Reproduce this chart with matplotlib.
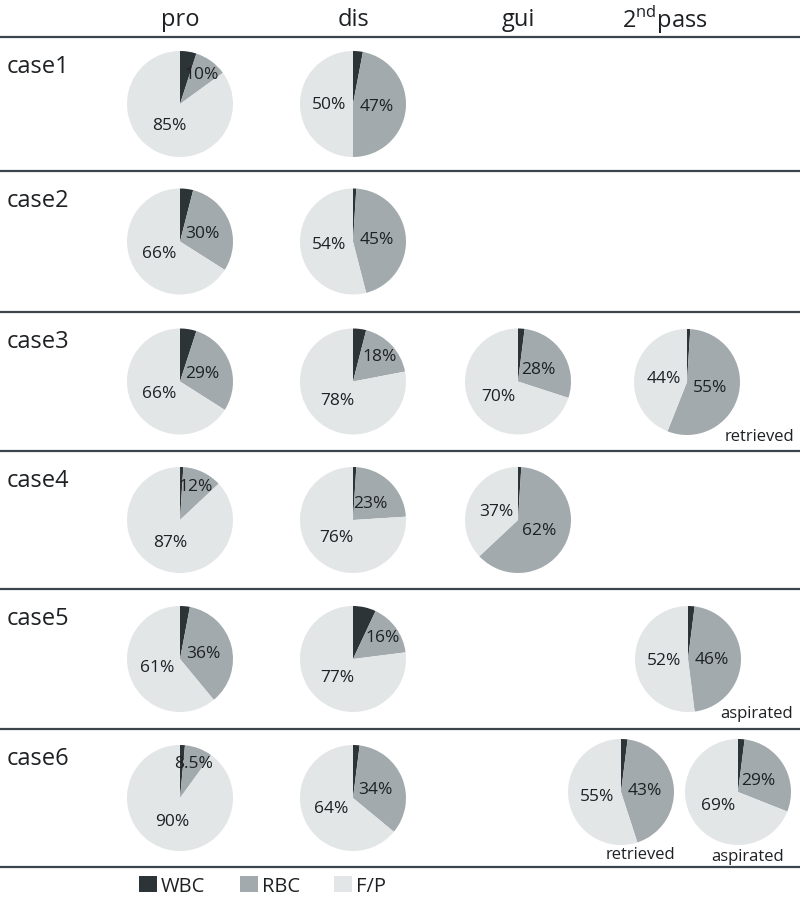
import numpy as np
import matplotlib
matplotlib.use('Agg')
import matplotlib.pyplot as plt

# values (percent); WBC is the remainder
cases = ['case1', 'case2', 'case3', 'case4', 'case5', 'case6']
columns = ['pro', 'dis', 'gui', r'2$^{\rm nd}$pass']
legend_labels = ['WBC', 'RBC', 'F/P']

rbc_pro = [10, 30, 29, 12, 36, 8.5]
fp_pro = [85, 66, 66, 87, 61, 90]
rbc_dis = [47, 45, 18, 23, 16, 34]
fp_dis = [50, 54, 78, 76, 77, 64]
rbc_gui = [None, None, 28, 62, None, None]
fp_gui = [None, None, 70, 37, None, None]

second_case = [3, 5, 6, 6]
second_tag = ['retrieved', 'aspirated', 'retrieved', 'aspirated']
second_rbc = [55, 46, 43, 29]
second_fp = [44, 52, 55, 69]

# layout (pixels)
W, H = 801, 904
row_lines = [38, 172, 313, 452, 590, 730, 868]
col_x = [180, 353, 518, 665]
pie_r = 53
second_xy = [(687, 383), (688, 660), (621, 793), (738, 793)]
second_tag_off = [(72, 54), (69, 54), (19, 62), (10, 64)]

colors = ['#2d3438', '#a2aaad', '#e2e6e6']
line_color = '#3a464c'
text_color = '#1e2124'

plt.rcParams['font.family'] = ['Open Sans', 'DejaVu Sans']
plt.rcParams['mathtext.fontset'] = 'custom'
plt.rcParams['mathtext.rm'] = 'Open Sans'


def yy(y):
    return H - y


def fmt(v):
    return '%g%%' % v


def draw_pie(ax, cx, cy, rbc, fp):
    wbc = max(100 - rbc - fp, 0)
    vals = [wbc, rbc, fp]
    wedges, _ = ax.pie(vals, colors=colors, startangle=90, counterclock=False,
                       center=(cx, yy(cy)), radius=pie_r, frame=True,
                       wedgeprops=dict(linewidth=0))
    # labels for RBC and F/P along the wedge mid angle
    start = 0.0
    for i, v in enumerate(vals):
        ang = start + v / 100 * 360 / 2
        start += v / 100 * 360
        if i == 0:
            continue
        d = 0.7 if v < 20 else 0.45
        tx = cx + d * pie_r * np.sin(np.radians(ang))
        ty = cy - d * pie_r * np.cos(np.radians(ang))
        ax.text(tx, yy(ty), fmt(v), ha='center', va='center', fontsize=12.5,
                color=text_color)
    return wedges


fig = plt.figure(figsize=(W / 100, H / 100), dpi=100)
ax = fig.add_axes([0, 0, 1, 1])

for y in row_lines:
    ax.plot([0, 800], [yy(y), yy(y)], color=line_color, lw=1.6, solid_capstyle='butt')

for x, name in zip(col_x, columns):
    ax.text(x, yy(20), name, ha='center', va='center', fontsize=17, color=text_color)

handles = None
for i, name in enumerate(cases):
    top = row_lines[i]
    bottom = row_lines[i + 1]
    cy = (top + bottom) / 2
    ax.text(7, yy(top + 29), name, ha='left', va='center', fontsize=17, color=text_color)
    w = draw_pie(ax, col_x[0], cy, rbc_pro[i], fp_pro[i])
    if handles is None:
        handles = w
    draw_pie(ax, col_x[1], cy, rbc_dis[i], fp_dis[i])
    if rbc_gui[i] is not None:
        draw_pie(ax, col_x[2], cy, rbc_gui[i], fp_gui[i])

for k in range(len(second_case)):
    cx, cy = second_xy[k]
    draw_pie(ax, cx, cy, second_rbc[k], second_fp[k])
    dx, dy = second_tag_off[k]
    ax.text(cx + dx, yy(cy + dy), second_tag[k], ha='center', va='center',
            fontsize=12, color=text_color)

ax.set_xlim(0, W)
ax.set_ylim(0, H)
ax.set_aspect('equal')
ax.axis('off')

fig.legend(handles, legend_labels, loc='center', bbox_to_anchor=(0.328, 0.019),
           ncol=3, frameon=False, fontsize=14.5, handlelength=0.9, handleheight=0.9,
           handletextpad=0.2, columnspacing=1.7, labelcolor=text_color)

fig.savefig('out.png', dpi=100)
